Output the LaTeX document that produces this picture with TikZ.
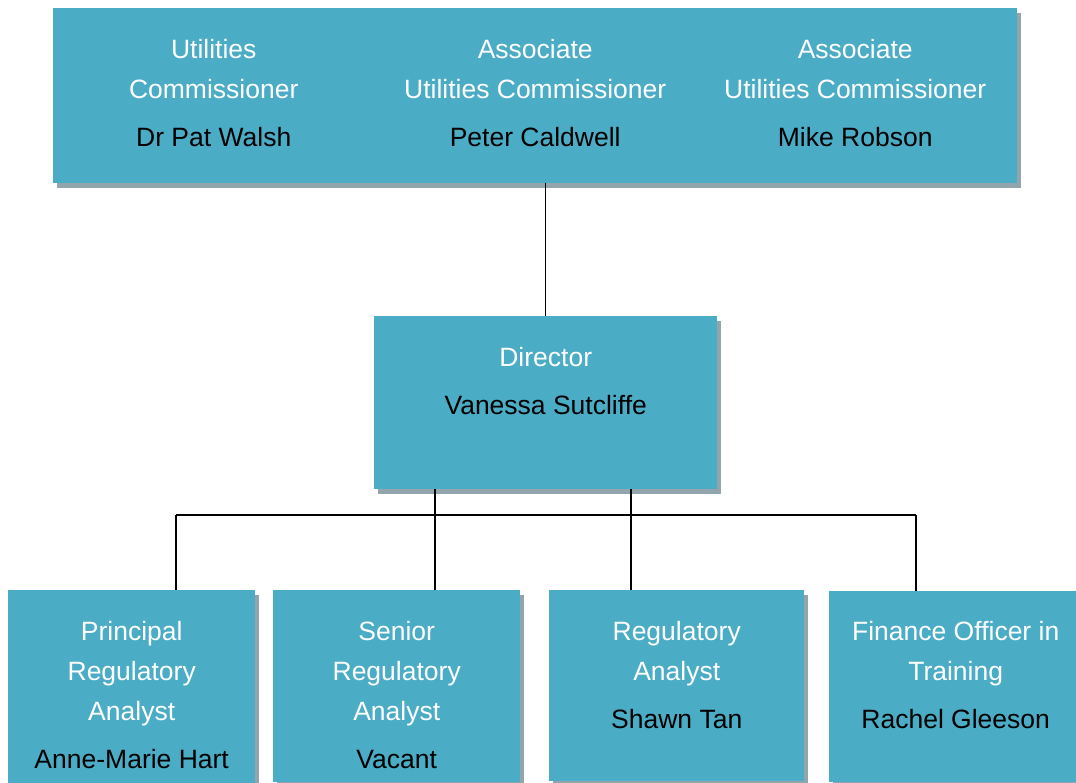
\documentclass[tikz,border=0pt]{standalone}
\usepackage{fontspec}
\setmainfont{Liberation Sans}
\usetikzlibrary{shadows,positioning}
\definecolor{boxblue}{RGB}{75,172,198}
\definecolor{shadowgrey}{RGB}{146,165,173}
\tikzset{
  post/.style={fill=boxblue, draw=none, inner sep=0pt, anchor=north west,
    drop shadow={shadow xshift=4pt, shadow yshift=-5pt, fill=shadowgrey, opacity=1}},
  info/.style={anchor=north, align=center, inner sep=0pt, text=white,
    font=\fontsize{26.5}{40}\selectfont},
  link/.style={line width=1.5pt}
}
\begin{document}
\begin{tikzpicture}[x=1pt,y=-1pt]
  \useasboundingbox (0,0) rectangle (1076,783);

  % Commissioners (top row)
  \node[post, minimum width=324pt, minimum height=175pt] (comm) at (53,8) {};
  \node[post, minimum width=322pt, minimum height=175pt] (assocA) at (377,8) {};
  \node[post, minimum width=318pt, minimum height=175pt] (assocB) at (699,8) {};
  \node[info] (commT) at ([xshift=-1.5pt,yshift=-31pt]comm.north) {Utilities\\Commissioner\\[8pt]\textcolor{black}{Dr Pat Walsh}};
  \node[info] (assocAT) at ([xshift=-3pt,yshift=-31pt]assocA.north) {Associate\\Utilities Commissioner\\[8pt]\textcolor{black}{Peter Caldwell}};
  \node[info] (assocBT) at ([xshift=-3pt,yshift=-31pt]assocB.north) {Associate\\Utilities Commissioner\\[8pt]\textcolor{black}{Mike Robson}};

  % Director
  \node[post, minimum width=343pt, minimum height=173pt] (dir) at (374,316) {};
  \node[info] (dirT) at ([yshift=-31pt]dir.north) {Director\\[8pt]\textcolor{black}{Vanessa Sutcliffe}};

  % Staff (bottom row)
  \node[post, minimum width=247pt, minimum height=205pt] (princ) at (8,590) {};
  \node[post, minimum width=247pt, minimum height=192pt] (senior) at (273,590) {};
  \node[post, minimum width=255pt, minimum height=191pt] (analyst) at (549,590) {};
  \node[post, minimum width=253pt, minimum height=191pt] (finance) at (829,591) {};
  \node[info] (princT) at ([yshift=-31pt]princ.north) {Principal\\Regulatory\\Analyst\\[8pt]\textcolor{black}{Anne-Marie Hart}};
  \node[info] (seniorT) at ([yshift=-31pt]senior.north) {Senior\\Regulatory\\Analyst\\[8pt]\textcolor{black}{Vacant}};
  \node[info] (analystT) at ([yshift=-31pt]analyst.north) {Regulatory\\Analyst\\[8pt]\textcolor{black}{Shawn Tan}};
  \node[info] (financeT) at ([yshift=-30pt]finance.north) {Finance Officer in\\Training\\[8pt]\textcolor{black}{Rachel Gleeson}};

  % Director up to commissioners
  \draw[link] (dir.north) -- (dir.north |- assocA.south);

  % Bus to staff
  \coordinate (busL) at (176,515);
  \coordinate (busR) at (916,515);
  \draw[link] (busL) -- (busR);
  \draw[link] (busL) -- (busL |- princ.north);
  \draw[link] (busR) -- (busR |- finance.north);
  \draw[link] ([xshift=-110.5pt]dir.south) coordinate (dropA) -- (dropA |- senior.north);
  \draw[link] ([xshift=85.5pt]dir.south) coordinate (dropB) -- (dropB |- analyst.north);
\end{tikzpicture}
\end{document}
